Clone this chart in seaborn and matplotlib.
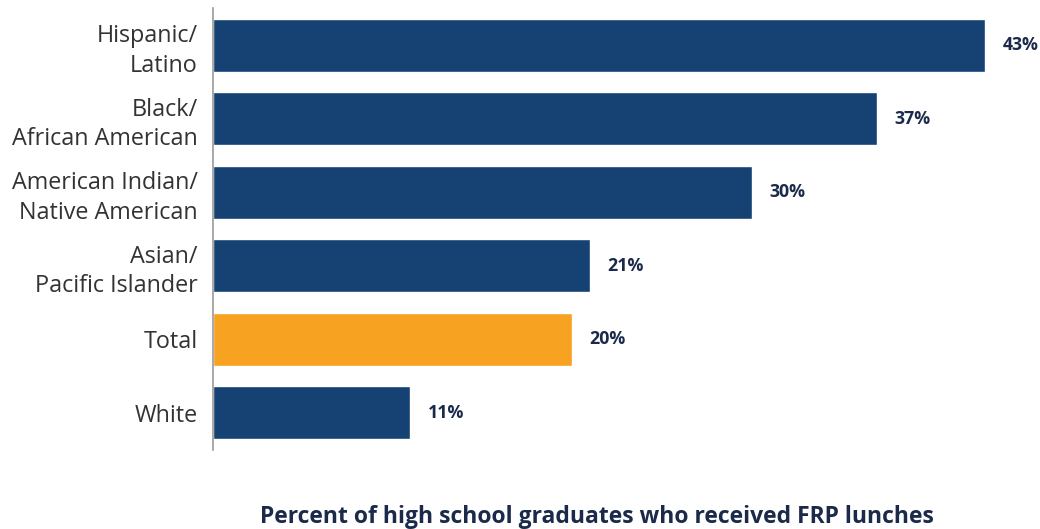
import matplotlib
matplotlib.use("Agg")
import matplotlib.pyplot as plt
import seaborn as sns
import pandas as pd

# Share of high school graduates who received free/reduced-price lunches
groups = [
    "Hispanic/\nLatino",
    "Black/\nAfrican American",
    "American Indian/\nNative American",
    "Asian/\nPacific Islander",
    "Total",
    "White",
]
percents = [43, 37, 30, 21, 20, 11]
value_labels = ["43%", "37%", "30%", "21%", "20%", "11%"]
xlabel_text = "Percent of high school graduates who received FRP lunches"

NAVY = "#154273"
ORANGE = "#F7A221"
LABEL_NAVY = "#1b2a4a"
TEXT_GREY = "#333333"

sns.set_theme(style="white")
plt.rcParams["font.family"] = ["Open Sans", "DejaVu Sans"]

df = pd.DataFrame({"group": groups, "pct": percents})
palette = {g: (ORANGE if g == "Total" else NAVY) for g in groups}

fig = plt.figure(figsize=(10.4, 5.29), dpi=100)
ax = fig.add_axes([213 / 1040, 1 - 450 / 529, 1 - 213 / 1040, (450 - 8) / 529])

sns.barplot(data=df, x="pct", y="group", hue="group", palette=palette,
            order=groups, width=0.72, legend=False, saturation=1, ax=ax)

ax.set_xlim(0, 46.07)
ax.set_ylim(5.51, -0.51)

for patch, txt in zip(ax.patches, value_labels):
    w = patch.get_width()
    yc = patch.get_y() + patch.get_height() / 2
    ax.annotate(txt, xy=(w, yc), xytext=(12.5, 0), textcoords="offset points",
                ha="left", va="center", fontsize=12.8, fontweight="bold",
                color=LABEL_NAVY)

ax.set_ylabel("")
ax.set_xlabel("")
ax.set_xticks([])
ax.tick_params(axis="y", length=0, pad=11, labelsize=16.8, labelcolor=TEXT_GREY)
for lab in ax.get_yticklabels():
    lab.set_horizontalalignment("right")
    lab.set_multialignment("right")
    lab.set_linespacing(1.3)

for side in ["top", "right", "bottom"]:
    ax.spines[side].set_visible(False)
ax.spines["left"].set_color("#9a9a9a")
ax.spines["left"].set_linewidth(1.2)

fig.text(597 / 1040, 1 - 517 / 529, xlabel_text, ha="center", va="center",
         fontsize=16.5, fontweight="bold", color=LABEL_NAVY)

fig.savefig("out.png", dpi=100)
